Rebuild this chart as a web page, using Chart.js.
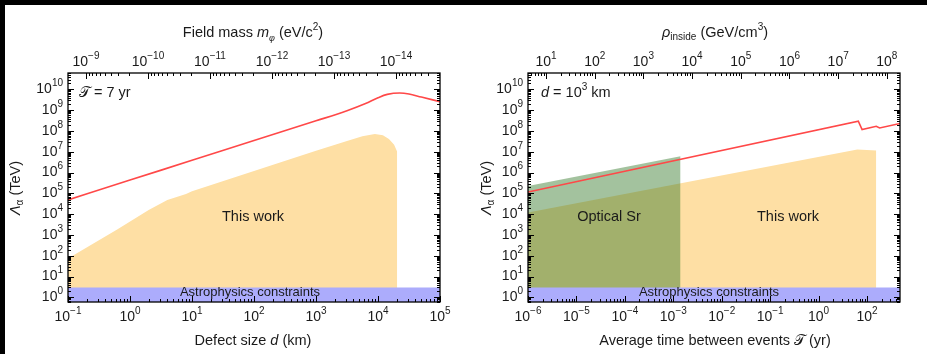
<!DOCTYPE html>
<html>
<head>
<meta charset="utf-8">
<script src="https://cdn.jsdelivr.net/npm/chart.js@4.4.0/dist/chart.umd.min.js"></script>
<style>
  html, body { margin: 0; padding: 0; background: #fff; width: 927px; height: 354px; overflow: hidden; position: relative; }
  .bar { position: absolute; background: #000; }
  canvas { position: absolute; top: 5px; }
  #left { left: 5px; }
  #right { left: 470px; }
</style>
</head>
<body>
<div class="bar" style="left:0;top:0;width:927px;height:5px"></div>
<div class="bar" style="left:0;top:0;width:5px;height:354px"></div>
<canvas id="left" width="465" height="349"></canvas>
<canvas id="right" width="457" height="349"></canvas>
<script>
// ---- data ----
const yRange = [0.63, 6.2e10]            // Lambda_alpha (TeV)
const astroLimit = 3                      // astrophysics constraints band top

// left panel: defect size d (km), T = 7 yr
const sizeRange = [0.1, 1e5]
const massRange = [Math.pow(10, -14.71), Math.pow(10, -8.71)]   // top axis, reversed
const redSizeD = [0.1, 1, 10, 100, 1000, 3160, 6300, 1e4, 1.41e4, 2.24e4, 3.16e4, 5e4, 1e5]
const redSizeL = [4.9e4, 4.4e5, 3.9e6, 3.5e7, 3.1e8, 9.5e8, 2.1e9, 4e9, 5.8e9, 6.8e9, 6.1e9, 4.3e9, 2.6e9]
const thisWorkD = [0.1, 0.63, 2, 4, 8, 10, 100, 1000, 3160, 5600, 8900, 1.2e4, 1.5e4, 1.82e4, 2.04e4, 2.04e4]
const thisWorkL = [74, 1900, 1.6e4, 4.8e4, 9.5e4, 1.26e5, 1.2e6, 1.12e7, 3.3e7, 5.6e7, 7.2e7, 6.3e7, 4.2e7, 2.2e7, 1e7, 0.63]

// right panel: average time between events T (yr), d = 10^3 km
const timeRange = [1e-6, 47.9]
const rhoRange = [Math.pow(10, 0.63), Math.pow(10, 8.27)]
const redTimeT = [1e-6, 6.6, 7.9, 15.5, 18.2, 47.9]
const redTimeL = [1.17e5, 2.95e8, 1.17e8, 1.7e8, 1.41e8, 2.3e8]
const opticalT = [1e-6, 1.41e-3, 1.41e-3]
const opticalL = [2.3e5, 6.2e6, 0.63]
const thisWorkT = [1e-6, 6.3, 15.5, 15.5]
const thisWorkTL = [1.2e4, 1.3e7, 1.15e7, 0.63]

// tick labels (exponents of 10)
const yExp = [0, 1, 2, 3, 4, 5, 6, 7, 8, 9, 10]
const sizeExp = [-1, 0, 1, 2, 3, 4, 5]
const massExp = [-9, -10, -11, -12, -13, -14]
const timeExp = [-6, -5, -4, -3, -2, -1, 0, 1]
const timeLabels = ['−6', '−5', '−4', '−3', '−2', '−1', '0', '2']
const rhoExp = [1, 2, 3, 4, 5, 6, 7, 8]

const RED = 'rgb(255, 72, 72)'
const YELLOW = 'rgb(254, 223, 164)'
const GREEN = 'rgba(50, 120, 40, 0.45)'
const ASTRO = 'rgb(172, 172, 252)'
const INK = '#1a1a1a'
const SANS = '"Liberation Sans", Arial, sans-serif'

const pts = (xs, ys) => xs.map((x, i) => ({ x: x, y: ys[i] }))
const expText = e => (e < 0 ? '−' + (-e) : '' + e)

function rich(ctx, parts, x, y, align) {
  let w = 0
  const ws = parts.map(p => {
    ctx.font = (p[2] || '') + ' ' + p[1] + 'px ' + SANS
    const m = ctx.measureText(p[0]).width
    w += m
    return m
  })
  let cx = align === 'right' ? x - w : align === 'left' ? x : x - w / 2
  ctx.textAlign = 'left'
  ctx.textBaseline = 'middle'
  parts.forEach((p, i) => {
    ctx.font = (p[2] || '') + ' ' + p[1] + 'px ' + SANS
    ctx.fillText(p[0], cx, y + (p[3] || 0))
    cx += ws[i]
  })
}

function pow10(ctx, exp, x, y, align) {
  rich(ctx, [['10', 14], [exp, 10, '', -6]], x, y, align)
}

function logTicks(lo, hi) {
  const out = []
  for (let e = Math.floor(Math.log10(lo)); e <= Math.ceil(Math.log10(hi)); e++) {
    for (let m = 1; m < 10; m++) {
      const v = m * Math.pow(10, e)
      if (v >= lo * 0.999 && v <= hi * 1.001) out.push([v, m === 1])
    }
  }
  return out
}

function makeFrame(cfg) {
  return {
    id: 'frame',
    afterDatasetsDraw(chart) {
      const { ctx, chartArea: a, scales } = chart
      ctx.save()
      ctx.strokeStyle = '#000'
      ctx.lineWidth = 1
      ctx.beginPath()
      logTicks(scales.x.min, scales.x.max).forEach(([v, major]) => {
        const p = Math.round(scales.x.getPixelForValue(v)) + 0.5
        ctx.moveTo(p, a.bottom); ctx.lineTo(p, a.bottom - (major ? 6 : 3))
      })
      logTicks(scales.x2.min, scales.x2.max).forEach(([v, major]) => {
        const p = Math.round(scales.x2.getPixelForValue(v)) + 0.5
        ctx.moveTo(p, a.top); ctx.lineTo(p, a.top + (major ? 6 : 3))
      })
      logTicks(scales.y.min, scales.y.max).forEach(([v, major]) => {
        const p = Math.round(scales.y.getPixelForValue(v)) + 0.5
        const l = major ? 6 : 3
        ctx.moveTo(a.left, p); ctx.lineTo(a.left + l, p)
        ctx.moveTo(a.right, p); ctx.lineTo(a.right - l, p)
      })
      ctx.stroke()
      ctx.lineWidth = 1.3
      ctx.strokeRect(a.left, a.top, a.right - a.left, a.bottom - a.top)

      ctx.fillStyle = INK
      yExp.forEach(e => pow10(ctx, expText(e), a.left - 5, scales.y.getPixelForValue(Math.pow(10, e)), 'right'))
      cfg.bottomExp.forEach((e, i) => pow10(ctx, cfg.bottomLabels[i], scales.x.getPixelForValue(Math.pow(10, e)), 312, 'center'))
      cfg.topExp.forEach(e => pow10(ctx, expText(e), scales.x2.getPixelForValue(Math.pow(10, e)), 57, 'center'))

      rich(ctx, cfg.topTitle, cfg.titleX, 28, 'center')
      rich(ctx, cfg.bottomTitle, cfg.titleX, 336, 'center')
      ctx.save()
      ctx.translate(cfg.yTitleX, 183)
      ctx.rotate(-Math.PI / 2)
      rich(ctx, [['Λ', 14.5, 'italic'], ['α', 10, '', 4], [' (TeV)', 14.5]], 0, 0, 'center')
      ctx.restore()
      cfg.notes.forEach(n => rich(ctx, n.parts, n.x, n.y, n.align))
      ctx.restore()
    }
  }
}

function band(range) {
  return { data: pts(range, [astroLimit, astroLimit]), showLine: true, fill: 'start',
           backgroundColor: ASTRO, borderWidth: 0, pointRadius: 0 }
}

function options(pad, xr, x2r, reverse) {
  return {
    responsive: false, animation: false, events: [],
    layout: { padding: pad },
    plugins: { legend: { display: false }, tooltip: { enabled: false } },
    scales: {
      x: { type: 'logarithmic', min: xr[0], max: xr[1], display: false },
      x2: { type: 'logarithmic', position: 'top', min: x2r[0], max: x2r[1], reverse: reverse, display: false },
      y: { type: 'logarithmic', min: yRange[0], max: yRange[1], display: false }
    }
  }
}

new Chart(document.getElementById('left'), {
  type: 'scatter',
  data: {
    datasets: [
      band(sizeRange),
      { data: pts(redSizeD, redSizeL), showLine: true, borderColor: RED, borderWidth: 1.6,
        pointRadius: 0, cubicInterpolationMode: 'monotone' },
      { data: pts(thisWorkD, thisWorkL), showLine: true, fill: 'start', backgroundColor: YELLOW,
        borderWidth: 0, pointRadius: 0 }
    ]
  },
  options: options({ left: 63, right: 30, top: 68, bottom: 52 }, sizeRange, massRange, true),
  plugins: [makeFrame({
    bottomExp: sizeExp, bottomLabels: sizeExp.map(expText), topExp: massExp,
    titleX: 248, yTitleX: 11,
    topTitle: [['Field mass ', 14.5], ['m', 14.5, 'italic'], ['φ', 9, 'italic', 5], [' (eV/c', 14.5], ['2', 10, '', -6], [')', 14.5]],
    bottomTitle: [['Defect size ', 14.5], ['d', 14.5, 'italic'], [' (km)', 14.5]],
    notes: [
      { parts: [['𝒯', 14.5], [' = 7 yr', 14.5]], x: 74, y: 88, align: 'left' },
      { parts: [['This work', 14.5]], x: 248, y: 212, align: 'center' },
      { parts: [['Astrophysics constraints', 13]], x: 245, y: 287, align: 'center' }
    ]
  })]
})

new Chart(document.getElementById('right'), {
  type: 'scatter',
  data: {
    datasets: [
      band(timeRange),
      { data: pts(redTimeT, redTimeL), showLine: true, borderColor: RED, borderWidth: 1.6, pointRadius: 0 },
      { data: pts(opticalT, opticalL), showLine: true, fill: 'start', backgroundColor: GREEN,
        borderWidth: 0, pointRadius: 0 },
      { data: pts(thisWorkT, thisWorkTL), showLine: true, fill: 'start', backgroundColor: YELLOW,
        borderWidth: 0, pointRadius: 0 }
    ]
  },
  options: options({ left: 58, right: 27, top: 68, bottom: 52 }, timeRange, rhoRange, false),
  plugins: [makeFrame({
    bottomExp: timeExp, bottomLabels: timeLabels, topExp: rhoExp,
    titleX: 245, yTitleX: 17,
    topTitle: [['ρ', 14.5, 'italic'], ['inside', 10, '', 4], [' (GeV/cm', 14.5], ['3', 10, '', -6], [')', 14.5]],
    bottomTitle: [['Average time between events ', 14.5], ['𝒯', 14.5], [' (yr)', 14.5]],
    notes: [
      { parts: [['d', 14.5, 'italic'], [' = 10', 14.5], ['3', 10, '', -6], [' km', 14.5]], x: 71, y: 88, align: 'left' },
      { parts: [['Optical Sr', 14.5]], x: 139, y: 212, align: 'center' },
      { parts: [['This work', 14.5]], x: 318, y: 212, align: 'center' },
      { parts: [['Astrophysics constraints', 13]], x: 239, y: 287, align: 'center' }
    ]
  })]
})
</script>
</body>
</html>
